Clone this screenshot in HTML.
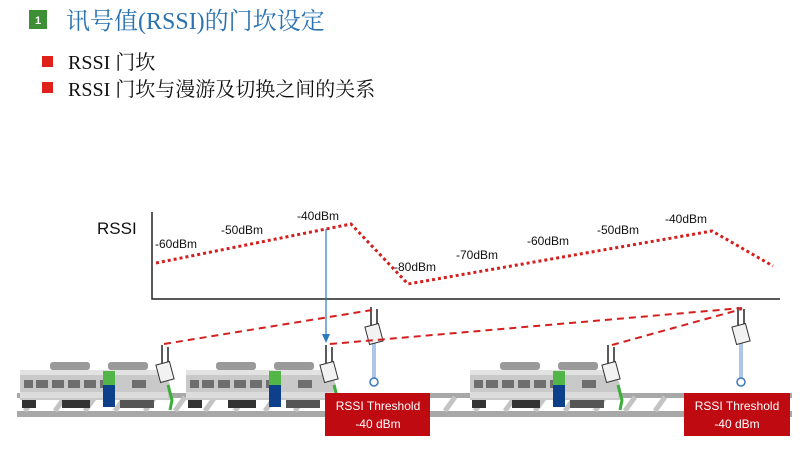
<!DOCTYPE html>
<html><head><meta charset="utf-8"><style>
html,body{margin:0;padding:0;background:#fff;width:806px;height:455px;overflow:hidden}
</style></head><body>
<svg width="806" height="455" viewBox="0 0 806 455" xmlns="http://www.w3.org/2000/svg">
<defs>
<g id="train">
  <rect x="30" y="362" width="40" height="8" rx="3" fill="#9a9a9a"/>
  <rect x="88" y="362" width="40" height="8" rx="3" fill="#9a9a9a"/>
  <path d="M0 370 H135 Q145 370 150 385 L152 400 H0 Z" fill="#c9c9c9"/>
  <rect x="0" y="370" width="140" height="5" fill="#e2e2e2"/>
  <rect x="0" y="392" width="148" height="6" fill="#dcdcdc"/>
  <rect x="4" y="380" width="9" height="8" fill="#6e6e6e"/>
  <rect x="16" y="380" width="12" height="8" fill="#6e6e6e"/>
  <rect x="32" y="380" width="12" height="8" fill="#6e6e6e"/>
  <rect x="48" y="380" width="12" height="8" fill="#6e6e6e"/>
  <rect x="64" y="380" width="12" height="8" fill="#6e6e6e"/>
  <rect x="80" y="380" width="7" height="8" fill="#6e6e6e"/>
  <rect x="112" y="380" width="14" height="8" fill="#6e6e6e"/>
  <rect x="83" y="371" width="12" height="14" fill="#52b548"/>
  <rect x="83" y="385" width="12" height="22" fill="#0e3f8a"/>
  <rect x="2" y="400" width="14" height="8" fill="#333"/>
  <rect x="42" y="400" width="28" height="8" fill="#333"/>
  <rect x="100" y="400" width="34" height="8" fill="#555"/>
  <path d="M148 385 L152 400 L150 410" stroke="#3cae3c" stroke-width="3" fill="none"/>
</g>
<g id="ap">
  <line x1="4" y1="-18" x2="4" y2="0" stroke="#222" stroke-width="1.5"/>
  <line x1="10" y1="-16" x2="10" y2="2" stroke="#222" stroke-width="1.5"/>
  <rect x="0" y="0" width="14" height="18" fill="#f2f2f2" stroke="#333" stroke-width="1" transform="rotate(-15 7 9)"/>
</g>
</defs>

<!-- title -->
<rect x="29" y="10" width="18" height="19" fill="#3e8e35"/>
<text x="38" y="24" font-family="Liberation Sans, sans-serif" font-size="11" font-weight="bold" fill="#fff" text-anchor="middle">1</text>
<text x="66" y="29" font-family="Liberation Serif, 'Noto Serif CJK SC', serif" font-size="24" fill="#2b73b0">讯号值(RSSI)的门坎设定</text>
<rect x="42" y="56" width="11" height="11" fill="#e0201a"/>
<rect x="42" y="82" width="11" height="11" fill="#e0201a"/>
<text x="68" y="69" font-family="Liberation Serif, 'Noto Serif CJK SC', serif" font-size="20" fill="#111">RSSI 门坎</text>
<text x="68" y="96" font-family="Liberation Serif, 'Noto Serif CJK SC', serif" font-size="20" fill="#111">RSSI 门坎与漫游及切换之间的关系</text>

<!-- chart -->
<text x="97" y="234" font-family="Liberation Sans, sans-serif" font-size="17" fill="#111">RSSI</text>
<path d="M152 212 V299 H780" stroke="#222" stroke-width="1.5" fill="none"/>
<polyline points="156,263 351,224 408,284 712,231 773,266" fill="none" stroke="#d41f1f" stroke-width="3" stroke-dasharray="3 3"/>
<g font-family="Liberation Sans, sans-serif" font-size="12" fill="#111">
<text x="155" y="248">-60dBm</text>
<text x="221" y="234">-50dBm</text>
<text x="297" y="220">-40dBm</text>
<text x="394" y="271">-80dBm</text>
<text x="456" y="259">-70dBm</text>
<text x="527" y="245">-60dBm</text>
<text x="597" y="234">-50dBm</text>
<text x="665" y="223">-40dBm</text>
</g>
<line x1="326" y1="229" x2="326" y2="336" stroke="#2b7ac0" stroke-width="1.2"/>
<path d="M322 334 L330 334 L326 343 Z" fill="#2b7ac0"/>

<!-- track -->
<rect x="17" y="393" width="775" height="5" fill="#a8a8a8"/>
<rect x="17" y="411" width="775" height="6" fill="#a8a8a8"/>
<g stroke="#c4c4c4" stroke-width="5">
<path d="M25 411 L35 397 M55 411 L65 397 M85 411 L95 397 M115 411 L125 397 M145 411 L155 397 M175 411 L185 397 M205 411 L215 397 M235 411 L245 397 M265 411 L275 397 M295 411 L305 397 M445 411 L455 397 M475 411 L485 397 M505 411 L515 397 M535 411 L545 397 M565 411 L575 397 M595 411 L605 397 M625 411 L635 397 M655 411 L665 397"/>
</g>

<!-- trains -->
<use href="#train" transform="translate(20,0)"/>
<use href="#train" transform="translate(186,0)"/>
<use href="#train" transform="translate(470,0)"/>

<!-- AP on trains -->
<use href="#ap" transform="translate(158,363)"/>
<use href="#ap" transform="translate(322,363)"/>
<use href="#ap" transform="translate(604,363)"/>

<!-- trackside APs -->
<line x1="374" y1="340" x2="374" y2="378" stroke="#5b8fcc" stroke-width="3"/>
<line x1="374" y1="340" x2="374" y2="378" stroke="#fff" stroke-width="1"/>
<circle cx="374" cy="382" r="4" fill="none" stroke="#3b78c0" stroke-width="1.5"/>
<use href="#ap" transform="translate(367,325)"/>
<line x1="741" y1="340" x2="741" y2="378" stroke="#5b8fcc" stroke-width="3"/>
<line x1="741" y1="340" x2="741" y2="378" stroke="#fff" stroke-width="1"/>
<circle cx="741" cy="382" r="4" fill="none" stroke="#3b78c0" stroke-width="1.5"/>
<use href="#ap" transform="translate(734,325)"/>

<!-- dashed links -->
<g stroke="#d41f1f" stroke-width="2" stroke-dasharray="7 5" fill="none">
<line x1="164" y1="344" x2="372" y2="310"/>
<line x1="330" y1="344" x2="742" y2="308"/>
<line x1="612" y1="345" x2="742" y2="309"/>
</g>

<!-- threshold boxes -->
<rect x="325" y="393" width="105" height="43" fill="#c00a12"/>
<rect x="684" y="393" width="106" height="43" fill="#c00a12"/>
<g font-family="Liberation Sans, sans-serif" font-size="12" fill="#fff" text-anchor="middle">
<text x="378" y="410">RSSI Threshold</text>
<text x="378" y="428">-40 dBm</text>
<text x="737" y="410">RSSI Threshold</text>
<text x="737" y="428">-40 dBm</text>
</g>
</svg>
</body></html>
